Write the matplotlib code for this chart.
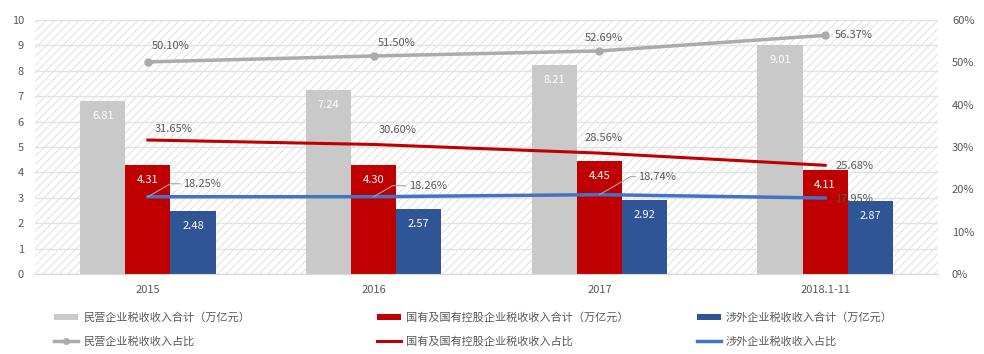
import matplotlib
matplotlib.use("Agg")
import matplotlib.pyplot as plt
from matplotlib.patches import Rectangle
from matplotlib.lines import Line2D
import numpy as np

plt.rcParams['font.family'] = ['Noto Sans CJK SC', 'DejaVu Sans']
plt.rcParams['hatch.linewidth'] = 0.8
plt.rcParams['hatch.color'] = '#e3e3e3'

categories = ['2015', '2016', '2017', '2018.1-11']
private_tax = [6.81, 7.24, 8.21, 9.01]
state_tax = [4.31, 4.30, 4.45, 4.11]
foreign_tax = [2.48, 2.57, 2.92, 2.87]
private_share = [50.10, 51.50, 52.69, 56.37]
state_share = [31.65, 30.60, 28.56, 25.68]
foreign_share = [18.25, 18.26, 18.74, 17.95]

names = ['民营企业税收收入合计（万亿元）', '国有及国有控股企业税收收入合计（万亿元）', '涉外企业税收收入合计（万亿元）',
         '民营企业税收收入占比', '国有及国有控股企业税收收入占比', '涉外企业税收收入占比']

c_gray_bar = '#c9c9c9'
c_red = '#c00000'
c_blue_bar = '#2f5597'
c_gray_line = '#ababab'
c_blue_line = '#4472c4'
c_text = '#595959'

fig = plt.figure(figsize=(9.84, 3.54), dpi=100)
ax = fig.add_axes([35/984, 80/354, 903/984, 254/354])
ax2 = ax.twinx()

x = np.arange(len(categories))
w = 0.2

# hatched background
bg = Rectangle((0, 0), 1, 1, transform=ax.transAxes, facecolor='white',
               edgecolor='#e3e3e3', hatch='////', linewidth=0, zorder=0)
ax.add_patch(bg)

b1 = ax.bar(x - w, private_tax, w, color=c_gray_bar, zorder=2)
b2 = ax.bar(x, state_tax, w, color=c_red, zorder=2)
b3 = ax.bar(x + w, foreign_tax, w, color=c_blue_bar, zorder=2)

for bars, vals in [(b1, private_tax), (b2, state_tax), (b3, foreign_tax)]:
    for r, v in zip(bars, vals):
        ax.annotate(f'{v:.2f}', (r.get_x() + r.get_width()/2, v), xytext=(0, -15),
                    textcoords='offset pixels', ha='center', va='center',
                    color='white', fontsize=8, zorder=5)

ax.set_ylim(0, 10)
ax.set_yticks(range(0, 11))
ax.set_xlim(-0.5, 3.5)
ax.set_xticks(x)
ax.set_xticklabels(categories)
ax.grid(axis='y', color='#e3e3e3', linewidth=1, zorder=1)
ax.set_axisbelow(True)
for s in ['left', 'right', 'top']:
    ax.spines[s].set_visible(False)
ax.spines['bottom'].set_color('#d9d9d9')
ax.tick_params(axis='both', length=0, colors=c_text, labelsize=8)
ax.tick_params(axis='x', pad=8)
ax.tick_params(axis='y', pad=8)

l1, = ax2.plot(x, private_share, color=c_gray_line, lw=2.5, marker='o', ms=5, zorder=3)
l2, = ax2.plot(x, state_share, color=c_red, lw=2.2, zorder=3)
l3, = ax2.plot(x, foreign_share, color=c_blue_line, lw=2.5, zorder=3)
ax2.set_ylim(0, 60)
ax2.set_yticks(range(0, 61, 10))
ax2.set_yticklabels([f'{v}%' for v in range(0, 61, 10)])
for s in ax2.spines.values():
    s.set_visible(False)
ax2.tick_params(axis='y', length=0, colors=c_text, labelsize=8, pad=10)

# label offsets (pixels)
gray_off = [(4, 16, 'left'), (4, 13, 'left'), (-15, 13, 'left'), (10, 0, 'left')]
red_off = [(7, 11, 'left'), (5, 14, 'left'), (-15, 15, 'left'), (10, -1, 'left')]
blue_off = [(35, 13, 'left'), (35, 11, 'left'), (39, 18, 'left'), (10, -1, 'left')]

for xi, v, (dx, dy, ha) in zip(x, private_share, gray_off):
    ax2.annotate(f'{v:.2f}%', (xi, v), xytext=(dx, dy), textcoords='offset pixels',
                 ha=ha, va='center', color=c_text, fontsize=8, zorder=6)
for xi, v, (dx, dy, ha) in zip(x, state_share, red_off):
    ax2.annotate(f'{v:.2f}%', (xi, v), xytext=(dx, dy), textcoords='offset pixels',
                 ha=ha, va='center', color=c_text, fontsize=8, zorder=6)
for i, (xi, v, (dx, dy, ha)) in enumerate(zip(x, foreign_share, blue_off)):
    if i < 3:
        ax2.annotate(f'{v:.2f}%', (xi, v), xytext=(dx, dy), textcoords='offset pixels',
                     ha=ha, va='center', color=c_text, fontsize=8, zorder=6,
                     arrowprops=dict(arrowstyle='-', color='#a6a6a6', lw=0.8,
                                     shrinkA=0, shrinkB=0, relpos=(0, 0.5),
                                     connectionstyle='angle,angleA=0,angleB=30,rad=0'))
    else:
        ax2.annotate(f'{v:.2f}%', (xi, v), xytext=(dx, dy), textcoords='offset pixels',
                     ha=ha, va='center', color=c_text, fontsize=8, zorder=6)

# legends
bar_h = lambda c: Rectangle((0, 0), 1, 1, facecolor=c, edgecolor='none')
h_bars = [bar_h(c_gray_bar), bar_h(c_red), bar_h(c_blue_bar)]
h_lines = [Line2D([], [], color=c_gray_line, lw=2.5, marker='o', ms=4),
           Line2D([], [], color=c_red, lw=2.2),
           Line2D([], [], color=c_blue_line, lw=2.5)]
xs = [54/984, 377/984, 697/984]
for i in range(3):
    leg = fig.legend([h_bars[i], h_lines[i]], [names[i], names[i+3]], loc='upper left',
                     bbox_to_anchor=(xs[i], 42/354), frameon=False, fontsize=8,
                     handlelength=2.2, handleheight=0.5, handletextpad=0.4, labelspacing=1.2,
                     borderaxespad=0, borderpad=0)
    for t in leg.get_texts():
        t.set_color(c_text)

fig.savefig('out.png', dpi=100)
